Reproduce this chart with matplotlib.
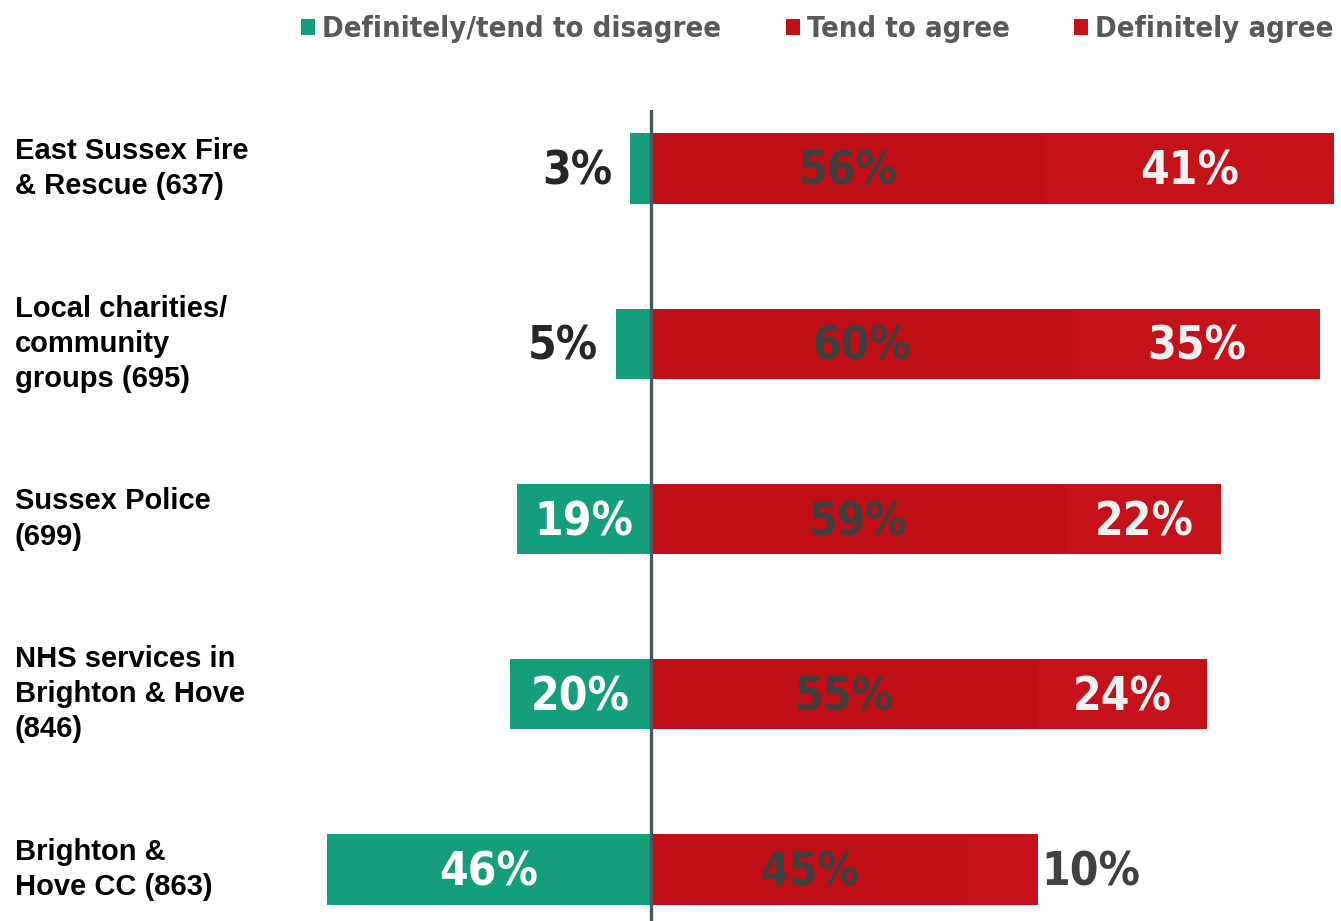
import numpy as np
import matplotlib.pyplot as plt

# data
categories = [
    "East Sussex Fire\n& Rescue (637)",
    "Local charities/\ncommunity\ngroups (695)",
    "Sussex Police\n(699)",
    "NHS services in\nBrighton & Hove\n(846)",
    "Brighton &\nHove CC (863)",
]
disagree = [3, 5, 19, 20, 46]
tend_agree = [56, 60, 59, 55, 45]
def_agree = [41, 35, 22, 24, 10]
series_names = ["Definitely/tend to disagree", "Tend to agree", "Definitely agree"]

teal = "#149E7C"
red1 = "#C00F16"
red2 = "#C4111A"
narrow = ["Liberation Sans Narrow", "DejaVu Sans"]

fig = plt.figure(figsize=(13.41, 9.21), dpi=100)
ax = fig.add_axes([260 / 1341, 0, 1081 / 1341, 811 / 921])

y = np.arange(len(categories))
h = 0.4
dis = np.array(disagree)
ta = np.array(tend_agree)
da = np.array(def_agree)

b1 = ax.barh(y, -dis, height=h, color=teal, label=series_names[0])
b2 = ax.barh(y, ta, height=h, color=red1, label=series_names[1])
b3 = ax.barh(y, da, left=ta, height=h, color=red2, label=series_names[2])

ax.axvline(0, color="#4A5568", lw=2.4, zorder=5)

ax.set_xlim(-55.5, 98.0)
ax.set_ylim(4.294, -0.334)
ax.axis("off")

lab_kw = dict(fontsize=33, fontweight="bold", family=narrow, fontstretch="condensed",
              va="center")
for i in y:
    d = disagree[i]
    yl = i + 0.02
    if d < 10:
        ax.text(-d - 2.5, yl, f"{d}%", ha="right", color="#262626", **lab_kw)
    else:
        ax.text(-d / 2, yl, f"{d}%", ha="center", color="white", **lab_kw)
    ax.text(ta[i] / 2, yl, f"{ta[i]}%", ha="center", color="#404040", **lab_kw)
    if da[i] < 15:
        ax.text(ta[i] + da[i] + 0.5, yl, f"{da[i]}%", ha="left", color="#404040", **lab_kw)
    else:
        ax.text(ta[i] + da[i] / 2, yl, f"{da[i]}%", ha="center", color="#F2F2F2", **lab_kw)

# category labels
for i, c in enumerate(categories):
    yy = ax.transData.transform((0, i))[1] / fig.dpi / 9.21
    fig.text(15 / 1341, yy, c, ha="left", va="center", fontsize=21,
             fontweight="bold", family="Liberation Sans", color="black",
             linespacing=1.32)

fig.legend(handles=[b1, b2, b3], loc="upper right", bbox_to_anchor=(1.014, 1.012),
           ncol=3, frameon=False, handlelength=0.48, handleheight=0.48,
           handletextpad=0.25, columnspacing=2.2,
           prop=dict(family=narrow, weight="bold", size=21, stretch="condensed"),
           labelcolor="#595959")

fig.savefig("out.png", dpi=100)
